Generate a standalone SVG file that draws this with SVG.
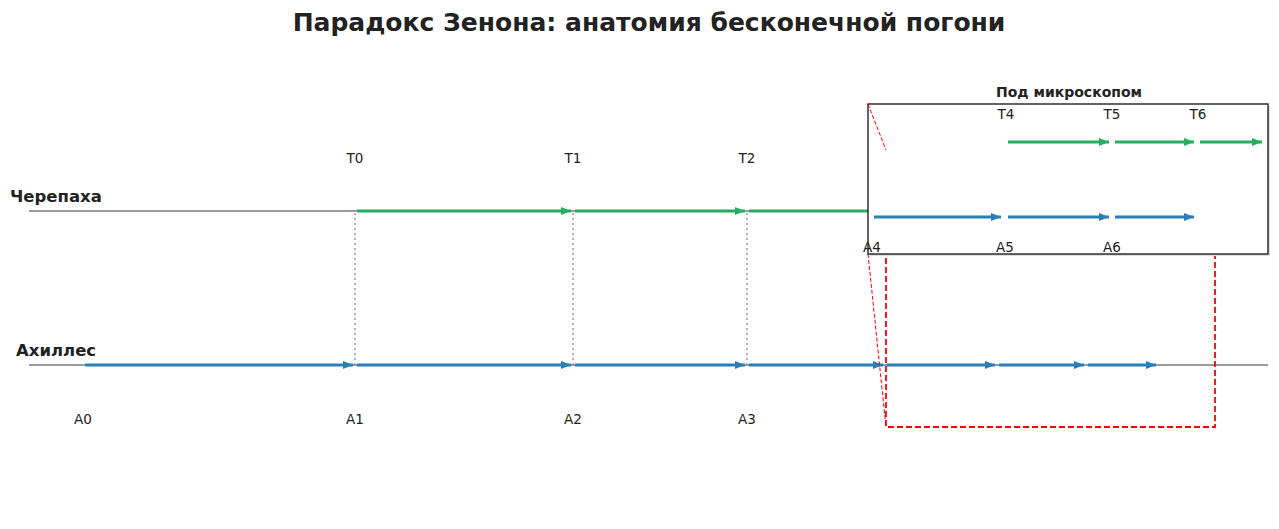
<svg xmlns="http://www.w3.org/2000/svg" width="1279" height="529" viewBox="0 0 1279 529">
<defs>
<marker id="ag" markerUnits="userSpaceOnUse" markerWidth="10" markerHeight="10" viewBox="0 0 10 10" refX="10" refY="5" orient="auto"><path d="M0,1 L10,5 L0,9 Z" fill="#27ae60"/></marker>
<marker id="ab" markerUnits="userSpaceOnUse" markerWidth="10" markerHeight="10" viewBox="0 0 10 10" refX="10" refY="5" orient="auto"><path d="M0,1 L10,5 L0,9 Z" fill="#2980b9"/></marker>
</defs>
<style>
text{font-family:"DejaVu Sans","Liberation Sans",sans-serif;fill:#222}
.t{font-size:13.5px;text-anchor:middle}
.b{font-weight:bold}
.axis{stroke:#7a7a7a;stroke-width:1.3}
.g{stroke:#27ae60;stroke-width:2.8;fill:none;marker-end:url(#ag)}
.bl{stroke:#2980b9;stroke-width:2.8;fill:none;marker-end:url(#ab)}
.dot{stroke:#999;stroke-width:1.5;stroke-dasharray:2 3}
.red{stroke:#ff0000;fill:none}
</style>
<rect width="1279" height="529" fill="#fff"/>
<text x="649" y="31" font-size="25" class="b" text-anchor="middle">Парадокс Зенона: анатомия бесконечной погони</text>

<g id="axes">
<line class="axis" x1="29" y1="211" x2="1268" y2="211"/>
<line class="axis" x1="29" y1="365" x2="1268" y2="365"/>
<text x="10" y="202" font-size="16.5" class="b">Черепаха</text>
<text x="16" y="356" font-size="16.5" class="b">Ахиллес</text>
</g>

<g id="connectors">
<line class="dot" x1="355" y1="213" x2="355" y2="365"/>
<line class="dot" x1="573" y1="213" x2="573" y2="365"/>
<line class="dot" x1="747" y1="213" x2="747" y2="365"/>
<line class="g" x1="357" y1="211" x2="571" y2="211"/>
<line class="g" x1="575" y1="211" x2="745" y2="211"/>
<line class="g" x1="749" y1="211" x2="880" y2="211"/>
<line class="bl" x1="85" y1="365" x2="353" y2="365"/>
<line class="bl" x1="357" y1="365" x2="571" y2="365"/>
<line class="bl" x1="575" y1="365" x2="745" y2="365"/>
<line class="bl" x1="749" y1="365" x2="883" y2="365"/>
<line class="bl" x1="887" y1="365" x2="995" y2="365"/>
<line class="bl" x1="999" y1="365" x2="1084" y2="365"/>
<line class="bl" x1="1088" y1="365" x2="1156" y2="365"/>
</g>

<g id="labels">
<text class="t" x="355" y="163">T0</text>
<text class="t" x="573" y="163">T1</text>
<text class="t" x="747" y="163">T2</text>
<text class="t" x="83" y="424">A0</text>
<text class="t" x="355" y="424">A1</text>
<text class="t" x="573" y="424">A2</text>
<text class="t" x="747" y="424">A3</text>
</g>

<g id="zoom-region">
<rect class="red" x="886" y="150" width="329" height="277" stroke-width="1.8" stroke-dasharray="6 3"/>
<line class="red" x1="868" y1="104" x2="886" y2="150" stroke-width="1" stroke-dasharray="4 2"/>
<line class="red" x1="868" y1="254" x2="886" y2="427" stroke-width="1" stroke-dasharray="4 2"/>
</g>

<g id="inset">
<rect x="870" y="106" width="400" height="150" fill="#ddd"/>
<rect x="868" y="104" width="400" height="150" fill="#fff" stroke="#111" stroke-width="1.3"/>
<line class="red" x1="868" y1="104" x2="886" y2="150" stroke-width="1" stroke-dasharray="4 2"/>
<text x="1069" y="97" font-size="14" class="b" text-anchor="middle">Под микроскопом</text>
<line class="g" x1="1008" y1="142" x2="1109" y2="142"/>
<line class="g" x1="1115" y1="142" x2="1194" y2="142"/>
<line class="g" x1="1200" y1="142" x2="1262" y2="142"/>
<line class="bl" x1="874" y1="217" x2="1001" y2="217"/>
<line class="bl" x1="1008" y1="217" x2="1109" y2="217"/>
<line class="bl" x1="1115" y1="217" x2="1194" y2="217"/>
<text class="t" x="1006" y="119">T4</text>
<text class="t" x="1112" y="119">T5</text>
<text class="t" x="1198" y="119">T6</text>
<text class="t" x="872" y="252">A4</text>
<text class="t" x="1005" y="252">A5</text>
<text class="t" x="1112" y="252">A6</text>
</g>
</svg>
